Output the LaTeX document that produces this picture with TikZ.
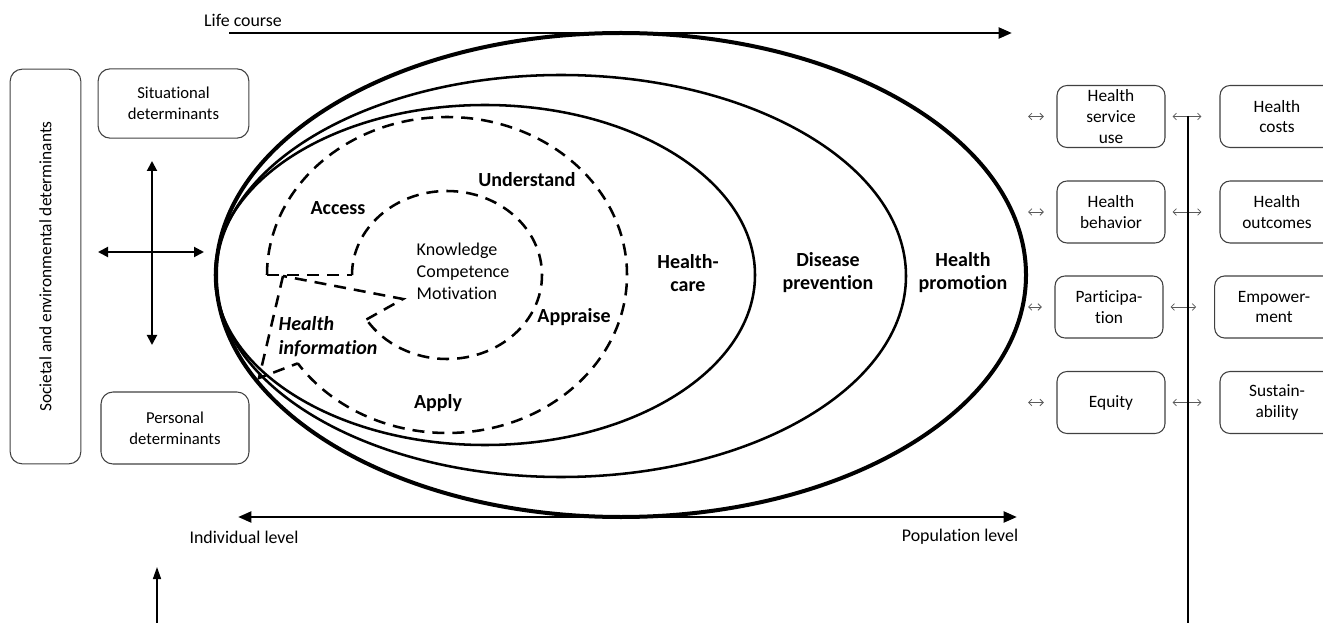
\documentclass[tikz,border=0pt]{standalone}
\usepackage{fontspec}
\setmainfont{Carlito}[Ligatures=NoCommon]
\usetikzlibrary{arrows.meta}
\definecolor{boxgray}{RGB}{64,64,64}
\definecolor{tipgray}{RGB}{90,90,90}

\begin{document}
\begin{tikzpicture}[
  x=0.75pt,y=-0.75pt,
  every node/.style={font=\fontsize{13}{15.5}\selectfont},
  dbox/.style={draw=boxgray,line width=0.8pt,rounded corners=9pt,align=center,inner sep=1pt},
  rbox/.style={dbox,rounded corners=7.5pt,minimum width=81pt,minimum height=46.5pt},
  blab/.style={font=\fontsize{15}{17.25}\selectfont\bfseries,align=center},
  axlab/.style={font=\fontsize{13.4}{15}\selectfont},
  ring/.style={line width=1.9pt},
  dring/.style={line width=1.9pt,dash pattern=on 9pt off 6pt},
  bigarr/.style={line width=2.2pt,-{Triangle[length=10pt,width=8pt]}},
  dblarr/.style={line width=2.2pt,{Triangle[length=10pt,width=8pt]}-{Triangle[length=10pt,width=8pt]}},
  crossarr/.style={line width=1.5pt,{Triangle[length=7.5pt,width=7.5pt]}-{Triangle[length=7.5pt,width=7.5pt]}},
  sarr/.style={tipgray,line width=0.6pt,{Straight Barb[length=2.5pt,width=5pt]}-{Straight Barb[length=2.5pt,width=5pt]}}
]
\useasboundingbox (0,0) rectangle (1323,623);

% Life course and levels
\coordinate (lcs) at (229,33);
\coordinate (lce) at (1012,33);
\draw[bigarr] (lcs) -- (lce);
\node[axlab] (lc) at (243,20) {Life course};
\coordinate (ils) at (1017,517);
\coordinate (ile) at (238,517);
\draw[dblarr] (ile) -- (ils);
\node[axlab] (ind) at (244,537) {Individual level};
\node[axlab] (pop) at (960,537) {Population level};

% Rings
\draw[ring,line width=3pt] (621,275) ellipse [x radius=405,y radius=242];
\draw[ring] (561,276) ellipse [x radius=345,y radius=201];
\draw[ring] (485,275) ellipse [x radius=270,y radius=170];
\node[blab] (hp) at (963,273) {Health\\promotion};
\node[blab] (dp) at (828,273) {Disease\\prevention};
\node[blab] (hc) at (688,273) {Health-\\care};

% Dashed core
\coordinate (dl) at (267,275);
\coordinate (il) at (352,275);
\coordinate (kt) at (403,299);
\coordinate (ht) at (283,276);
\coordinate (hb) at (259,378);
\draw[dring] (dl) arc[start angle=180,end angle=506,x radius=180,y radius=158] coordinate (de);
\draw[dring] (il) arc[start angle=180,end angle=508,x radius=95,y radius=84] coordinate (ie);
\draw[dring] (dl) -- (il);
\draw[dring] (ie) -- (kt) -- (ht);
\draw[dring] (ht) -- (hb) -- (de);
\node[blab] (acc) at (338,208) {Access};
\node[blab] (und) at (527,180) {Understand};
\node[blab] (app) at (574,317) {Appraise};
\node[blab] (apl) at (438,403) {Apply};
\node[blab,font=\fontsize{15}{18}\selectfont\bfseries\itshape,align=left,anchor=west] (hi) at (274,337) {Health\\information};
\node[align=left,anchor=west,font=\fontsize{13.5}{16.5}\selectfont] (kcm) at (412,271) {Knowledge\\Competence\\Motivation};

% Determinants
\node[dbox,rotate=90,minimum width=296pt,minimum height=53pt] (soc) at (45.5,266.5) {Societal and environmental determinants};
\node[dbox,minimum width=113pt,minimum height=52pt,font=\fontsize{12.5}{15.75}\selectfont] (sit) at (173.5,103.5) {Situational\\determinants};
\node[dbox,minimum width=111pt,minimum height=54pt,font=\fontsize{12.5}{15.75}\selectfont] (per) at (175,428) {Personal\\determinants};
\coordinate (cu) at (152,161);
\coordinate (cd) at (152,345);
\coordinate (cl) at (98,252);
\coordinate (cr) at (204,252);
\draw[crossarr] (cu) -- (cd);
\draw[crossarr] (cl) -- (cr);
\coordinate (ub) at (157,623);
\coordinate (ut) at (157,567);
\draw[line width=1.1pt,-{Triangle[length=9pt,width=6pt]}] (ub) -- (ut);

% Outcomes
\node[rbox] (hsu) at (1111,116.5) {Health\\service\\use};
\node[rbox] (hbe) at (1111,212) {Health\\behavior};
\node[rbox] (par) at (1109,307) {Participa-\\tion};
\node[rbox] (equ) at (1111,402.5) {Equity};
\node[rbox,minimum width=85.5pt] (hco) at (1277,116.5) {Health\\costs};
\node[rbox,minimum width=85.5pt] (hou) at (1277,212) {Health\\outcomes};
\node[rbox,minimum width=89pt] (emp) at (1274,307) {Empower-\\ment};
\node[rbox,minimum width=85.5pt] (sus) at (1277,402.5) {Sustain-\\ability};
\foreach \a/\b/\y in {hsu/hco/116.5,hbe/hou/212,par/emp/307,equ/sus/402.5}{
  \coordinate (l\a) at (1028,\y);
  \draw[sarr,shorten >=9.5pt] (l\a) -- (\a.west);
  \draw[sarr,shorten <=5.25pt,shorten >=13.5pt] (\a.east) -- (\b.west);
}
\coordinate (vt) at (1188,116);
\coordinate (vb) at (1188,623);
\draw[line width=1.5pt] (vt) -- (vb);
\end{tikzpicture}
\end{document}
